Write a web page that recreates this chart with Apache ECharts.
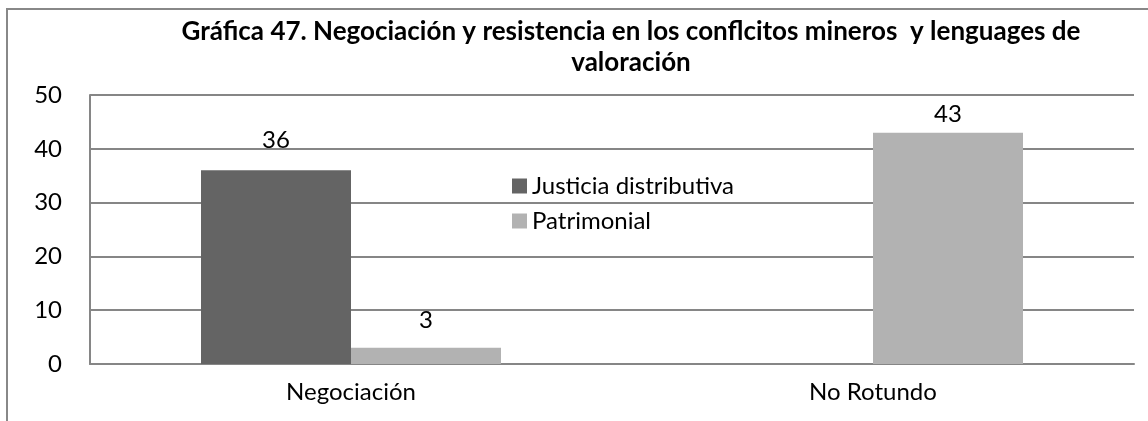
<!DOCTYPE html>
<html>
<head>
<meta charset="utf-8">
<script src="https://cdn.jsdelivr.net/npm/echarts@6/dist/echarts.min.js"></script>
<style>
  html, body { margin: 0; padding: 0; background: #ffffff; }
  #chart { width: 1148px; height: 421px; }
</style>
</head>
<body>
<div id="chart"></div>
<script>
// Categories and values per series
const categories = ['Negociación', 'No Rotundo'];
const justiciaDistributiva = [36, null];
const patrimonial = [3, 43];
const yTicks = { min: 0, max: 50, interval: 10 };

// Gap between each value label and its bar top, per category
const justiciaLabelGap = [18, 6];
const patrimonialLabelGap = [16, 6];

const FONT = 'Lato';
const labelBase = { show: true, position: 'top', fontFamily: FONT, fontSize: 24, color: '#000000' };

function withLabels(values, gaps) {
  return values.map((v, i) => (v == null ? null : { value: v, label: { distance: gaps[i] } }));
}

const chart = echarts.init(document.getElementById('chart'));

chart.setOption({
  backgroundColor: '#ffffff',
  animation: false,
  textStyle: { fontFamily: FONT, color: '#000000' },
  title: {
    text: 'Gráfica 47. Negociación y resistencia en los conflcitos mineros  y lenguages de\nvaloración',
    left: 626,
    top: 11,
    textAlign: 'center',
    textStyle: {
      fontFamily: FONT,
      fontSize: 26,
      fontWeight: 'bold',
      color: '#000000',
      lineHeight: 31,
      align: 'center'
    }
  },
  legend: {
    orient: 'vertical',
    left: 507,
    top: 169,
    itemWidth: 15,
    itemHeight: 15,
    itemGap: 11,
    icon: 'rect',
    textStyle: { fontFamily: FONT, fontSize: 24, color: '#000000' },
    data: ['Justicia distributiva', 'Patrimonial']
  },
  grid: { left: 90, right: 14, top: 95, bottom: 57 },
  xAxis: {
    type: 'category',
    data: categories,
    axisLine: { lineStyle: { color: '#868686', width: 2 } },
    axisTick: { show: false },
    axisLabel: { fontFamily: FONT, fontSize: 24, color: '#000000', margin: 16 }
  },
  yAxis: {
    type: 'value',
    min: yTicks.min,
    max: yTicks.max,
    interval: yTicks.interval,
    axisLine: { show: true, lineStyle: { color: '#868686', width: 2 } },
    axisTick: { show: false },
    splitLine: { lineStyle: { color: '#868686', width: 2 } },
    axisLabel: { fontFamily: FONT, fontSize: 24, color: '#000000', margin: 28 }
  },
  series: [
    {
      name: 'Justicia distributiva',
      type: 'bar',
      data: withLabels(justiciaDistributiva, justiciaLabelGap),
      barWidth: 150,
      barGap: '0%',
      itemStyle: { color: '#646464' },
      label: labelBase
    },
    {
      name: 'Patrimonial',
      type: 'bar',
      data: withLabels(patrimonial, patrimonialLabelGap),
      barWidth: 150,
      barGap: '0%',
      itemStyle: { color: '#b2b2b2' },
      label: labelBase
    }
  ],
  graphic: [
    {
      type: 'rect',
      silent: true,
      shape: { x: 7, y: 9, width: 1200, height: 500 },
      style: { fill: null, stroke: '#888888', lineWidth: 2 }
    }
  ]
});
</script>
</body>
</html>
